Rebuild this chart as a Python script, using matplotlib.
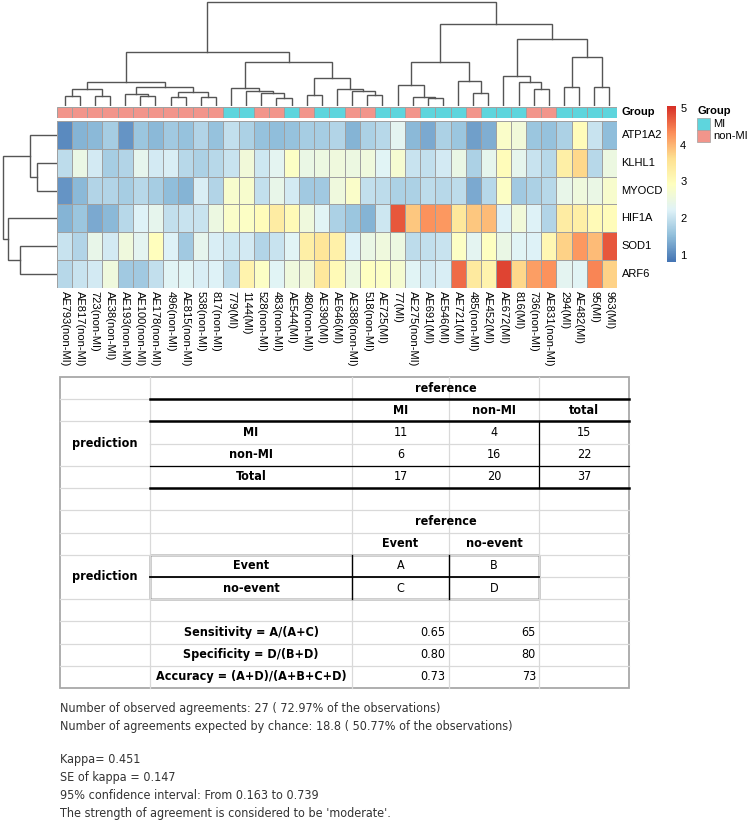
import os
import numpy as np
import matplotlib.pyplot as plt
from matplotlib.colors import LinearSegmentedColormap
from matplotlib.patches import Rectangle
from matplotlib import font_manager
from matplotlib.font_manager import FontProperties

W, H = 747, 822

# ---- heatmap data ----
genes = ['ATP1A2', 'KLHL1', 'MYOCD', 'HIF1A', 'SOD1', 'ARF6']
samples = ['AE793(non-MI)', 'AE817(non-MI)', '723(non-MI)', 'AE38(non-MI)', 'AE193(non-MI)',
           'AE100(non-MI)', 'AE178(non-MI)', '496(non-MI)', 'AE815(non-MI)', '538(non-MI)',
           '817(non-MI)', '779(MI)', '1144(MI)', '528(non-MI)', '483(non-MI)', 'AE544(MI)',
           '480(non-MI)', 'AE390(MI)', 'AE646(MI)', 'AE388(non-MI)', '518(non-MI)', 'AE725(MI)',
           '77(MI)', 'AE275(non-MI)', 'AE691(MI)', 'AE546(MI)', 'AE721(MI)', '485(non-MI)',
           'AE452(MI)', 'AE672(MI)', '816(MI)', '736(non-MI)', 'AE831(non-MI)', '294(MI)',
           'AE482(MI)', '95(MI)', '963(MI)']
groups = ['MI' if s.endswith('(MI)') else 'non-MI' for s in samples]

atp1a2 = [1.0, 1.4, 1.45, 1.7, 1.1, 1.6, 1.45, 1.65, 1.55, 1.8, 1.55, 1.95, 1.75, 1.55, 1.5,
          1.55, 1.7, 1.7, 1.8, 1.4, 1.75, 1.85, 2.3, 1.45, 1.3, 1.75, 1.6, 1.2, 1.35, 2.8,
          2.6, 1.6, 1.55, 1.75, 3.0, 2.0, 1.5]
klhl1 = [1.9, 2.45, 2.1, 1.7, 1.8, 2.35, 2.1, 2.15, 1.85, 1.75, 1.85, 2.0, 2.6, 2.05, 2.3,
         2.85, 2.45, 2.5, 2.55, 2.5, 2.55, 2.25, 2.7, 2.0, 1.95, 2.1, 2.45, 1.75, 2.35, 3.0,
         2.35, 2.0, 1.85, 3.3, 3.7, 1.85, 2.5]
myocd = [1.1, 1.45, 1.8, 1.8, 1.7, 1.85, 1.7, 1.5, 1.4, 2.15, 1.8, 2.75, 2.75, 1.95, 2.4,
         2.1, 1.65, 1.65, 2.55, 2.8, 1.95, 1.9, 1.75, 1.75, 1.9, 1.85, 1.9, 1.3, 1.85, 2.85,
         1.65, 1.75, 1.85, 2.4, 2.55, 2.45, 2.75]
hif1a = [1.4, 1.6, 1.3, 1.45, 1.85, 2.2, 2.35, 1.95, 2.0, 2.0, 2.5, 2.8, 2.85, 3.0, 3.35,
         3.05, 2.55, 2.25, 1.75, 1.6, 1.4, 2.05, 4.75, 3.85, 4.3, 4.25, 3.45, 3.85, 3.95, 2.2,
         2.6, 2.2, 1.8, 3.35, 3.3, 3.05, 3.0]
sod1 = [2.0, 1.8, 2.4, 2.1, 2.55, 2.3, 2.95, 2.2, 1.65, 2.35, 2.15, 2.05, 2.1, 1.8, 2.0,
        2.25, 3.3, 3.5, 3.25, 2.2, 2.45, 2.55, 2.5, 1.9, 1.95, 2.0, 2.85, 2.3, 2.9, 2.45,
        2.25, 2.2, 3.1, 3.75, 4.25, 3.95, 4.75]
arf6 = [1.85, 2.0, 2.1, 2.55, 1.65, 1.65, 1.95, 2.25, 2.25, 2.15, 2.2, 1.9, 3.2, 2.85, 2.25,
        2.55, 2.6, 3.45, 3.05, 2.5, 2.9, 2.85, 2.7, 2.25, 2.1, 2.15, 4.6, 3.4, 3.2, 4.9,
        3.7, 4.2, 4.3, 2.3, 2.25, 4.4, 3.75]

# dendrograms: (left node, right node, merge height); new nodes get ids n, n+1, ...
col_merges = [(0, 1, 10), (2, 3, 10), (37, 38, 17), (5, 6, 10), (4, 40, 12), (7, 8, 9),
              (9, 10, 9), (42, 43, 14), (41, 44, 19), (39, 45, 24), (14, 15, 8), (13, 47, 13),
              (12, 48, 15), (11, 49, 18), (16, 17, 11), (20, 21, 11), (19, 52, 15), (18, 53, 17),
              (51, 54, 28), (50, 55, 44), (46, 56, 54), (24, 25, 8), (23, 58, 9), (22, 59, 21),
              (27, 28, 13), (26, 61, 25), (60, 62, 44), (31, 32, 17), (30, 64, 24), (29, 65, 30),
              (33, 34, 19), (35, 36, 19), (67, 68, 49), (66, 69, 67), (63, 70, 82), (57, 71, 104)]
row_merges = [(1, 2, 20), (0, 6, 27), (4, 5, 37), (3, 8, 49), (7, 9, 54)]

# ---- table data ----
ref_cols = ['MI', 'non-MI', 'total']
pred_rows = ['MI', 'non-MI', 'Total']
counts = [[11, 4, 15], [6, 16, 22], [17, 20, 37]]
event_cols = ['Event', 'no-event']
event_rows = ['Event', 'no-event']
event_cells = [['A', 'B'], ['C', 'D']]
metrics = ['Sensitivity = A/(A+C)', 'Specificity = D/(B+D)', 'Accuracy = (A+D)/(A+B+C+D)']
metric_vals = [0.65, 0.80, 0.73]
metric_pct = [65, 80, 73]
notes = ['Number of observed agreements: 27 ( 72.97% of the observations)',
         'Number of agreements expected by chance: 18.8 ( 50.77% of the observations)',
         '',
         'Kappa= 0.451',
         'SE of kappa = 0.147',
         '95% confidence interval: From 0.163 to 0.739',
         "The strength of agreement is considered to be 'moderate'."]

installed = {f.name for f in font_manager.fontManager.ttflist}
sans = 'Liberation Sans' if 'Liberation Sans' in installed else 'DejaVu Sans'
plt.rcParams['font.family'] = [sans, 'DejaVu Sans']


# narrow font for the table (Arial Narrow look), searched by file name
def narrow_font(bold, size):
    prefs = ['liberationsansnarrow', 'dejavusanscondensed', 'opensanscondensed',
             'robotocondensed', 'notosanscondensed']
    files = [f.fname for f in font_manager.fontManager.ttflist]
    for p in prefs:
        for fn in files:
            b = os.path.basename(fn).lower().replace('-', '').replace('_', '')
            if not b.startswith(p):
                continue
            rest = b[len(p):]
            if bold and rest.startswith('bold.'):
                return FontProperties(fname=fn, size=size)
            if not bold and (rest.startswith('regular.') or rest.startswith('.')):
                return FontProperties(fname=fn, size=size)
    return FontProperties(family=sans, weight='bold' if bold else 'normal',
                          stretch='condensed', size=size)


fp_bold = narrow_font(True, 9)
fp_reg = narrow_font(False, 9)
fp_note = narrow_font(False, 9)

fig = plt.figure(figsize=(W / 100, H / 100), dpi=100)


def px_axes(x0, y0, x1, y1):
    return fig.add_axes([x0 / W, 1 - y1 / H, (x1 - x0) / W, (y1 - y0) / H])


def dendro(ax, merges, n, vertical=True):
    pos = {i: i + 0.5 for i in range(n)}
    hgt = {i: 0 for i in range(n)}
    for k, (a, b, h) in enumerate(merges):
        xs = [pos[a], pos[a], pos[b], pos[b]]
        ys = [hgt[a], h, h, hgt[b]]
        if vertical:
            ax.plot(xs, ys, color='#555555', lw=1.0, solid_joinstyle='miter')
        else:
            ax.plot(ys, xs, color='#555555', lw=1.0, solid_joinstyle='miter')
        pos[n + k] = (pos[a] + pos[b]) / 2
        hgt[n + k] = h


hx0, hx1, hy0, hy1 = 57, 617, 121, 288
vmin, vmax = 0.8, 5.05
cmap = LinearSegmentedColormap.from_list(
    'rdylbu', ['#4575B4', '#91BFDB', '#E0F3F8', '#FFFFBF', '#FEE090', '#FC8D59', '#D73027'])
grp_colors = {'MI': '#5ED5DD', 'non-MI': '#F2958B'}
mat = np.array([atp1a2, klhl1, myocd, hif1a, sod1, arf6])

# heatmap
ax = px_axes(hx0, hy0, hx1, hy1)
ax.pcolormesh(mat, cmap=cmap, vmin=vmin, vmax=vmax, edgecolors='#A0A0A0', linewidth=0.7)
ax.set_xlim(0, len(samples))
ax.set_ylim(len(genes), 0)
ax.axis('off')
for i, g in enumerate(genes):
    ax.text(len(samples) + 0.3, i + 0.5, g, va='center', ha='left', fontsize=8)
for j, s in enumerate(samples):
    ax.text(j + 0.5, len(genes) + 0.12, s, rotation=270, ha='center', va='top', fontsize=8)

# group annotation
axg = px_axes(hx0, 107, hx1, 118)
for j, g in enumerate(groups):
    axg.add_patch(Rectangle((j, 0), 1, 1, facecolor=grp_colors[g], edgecolor='#A0A0A0', lw=0.7))
axg.set_xlim(0, len(samples))
axg.set_ylim(0, 1)
axg.axis('off')
axg.text(len(samples) + 0.3, 0.5, 'Group', va='center', ha='left', fontsize=8, fontweight='bold')

# dendrograms
axd = px_axes(hx0, 0, hx1, 106)
dendro(axd, col_merges, len(samples), vertical=True)
axd.set_xlim(0, len(samples))
axd.set_ylim(0, 106)
axd.axis('off')

axr = px_axes(0, hy0, hx0, hy1)
dendro(axr, row_merges, len(genes), vertical=False)
axr.set_xlim(57, 0)
axr.set_ylim(len(genes), 0)
axr.axis('off')

# colour legend
axc = px_axes(667, 106, 676, 262)
axc.imshow(np.linspace(vmin, vmax, 200)[:, None], aspect='auto', cmap=cmap, origin='lower',
           extent=[0, 1, vmin, vmax])
axc.set_xticks([])
axc.yaxis.tick_right()
axc.set_yticks([1, 2, 3, 4, 5])
axc.tick_params(axis='y', length=0, pad=3, labelsize=8)
for sp in axc.spines.values():
    sp.set_visible(False)

# group legend
axl = fig.add_axes([0, 0, 1, 1], facecolor='none')
axl.set_xlim(0, W)
axl.set_ylim(H, 0)
axl.axis('off')
axl.text(697, 111, 'Group', fontsize=8, fontweight='bold', va='center', ha='left')
for k, g in enumerate(['MI', 'non-MI']):
    axl.add_patch(Rectangle((697, 118 + 12 * k), 13, 12, facecolor=grp_colors[g],
                            edgecolor='#A0A0A0', lw=0.5))
    axl.text(713, 124 + 12 * k, g, fontsize=8, va='center', ha='left')

# ---- table ----
tl, tr, tt, tb = 60, 629, 377, 688
cx = [60, 150, 352, 449, 539, 629]
nrow = 14
rh = (tb - tt) / nrow
ry = [tt + rh * k for k in range(nrow + 1)]
ccen = [(cx[i] + cx[i + 1]) / 2 for i in range(5)]
grid = '#D9D9D9'

for x in cx[1:-1]:
    axl.plot([x, x], [tt, tb], color=grid, lw=0.9)
for k in range(1, nrow):
    x_start = cx[1] if k in (3, 9) else tl
    axl.plot([x_start, tr], [ry[k], ry[k]], color=grid, lw=0.9)
axl.add_patch(Rectangle((tl, tt), tr - tl, tb - tt, fill=False, edgecolor='#A8A8A8', lw=1.3))

for k in (1, 2, 5):
    axl.plot([cx[1], tr], [ry[k], ry[k]], color='black', lw=1.8)
axl.plot([cx[1], tr], [ry[4], ry[4]], color='black', lw=0.9)
axl.plot([cx[4], cx[4]], [ry[2], ry[5]], color='black', lw=0.9)
axl.add_patch(Rectangle((cx[1], ry[8]), cx[4] - cx[1], ry[10] - ry[8], fill=False,
                        edgecolor='black', lw=1.0))
axl.plot([cx[1], cx[4]], [ry[9], ry[9]], color='black', lw=1.3)
for x in (cx[2], cx[3]):
    axl.plot([x, x], [ry[8], ry[10]], color='black', lw=1.0)


def cell_text(x, y, s, bold=False, ha='center'):
    axl.text(x, y, s, ha=ha, va='center', fontproperties=fp_bold if bold else fp_reg)


def rmid(row):
    return (ry[row] + ry[row + 1]) / 2


mid23 = (cx[2] + cx[4]) / 2
cell_text(mid23, rmid(0), 'reference', bold=True)
for i, c in enumerate(ref_cols):
    cell_text(ccen[2 + i], rmid(1), c, bold=True)
for r, lab in enumerate(pred_rows):
    cell_text(ccen[1], rmid(2 + r), lab, bold=True)
    for i, v in enumerate(counts[r]):
        cell_text(ccen[2 + i], rmid(2 + r), str(v))
cell_text(ccen[0], ry[3], 'prediction', bold=True)

cell_text(mid23, rmid(6), 'reference', bold=True)
for i, c in enumerate(event_cols):
    cell_text(ccen[2 + i], rmid(7), c, bold=True)
for r, lab in enumerate(event_rows):
    cell_text(ccen[1], rmid(8 + r), lab, bold=True)
    for i, v in enumerate(event_cells[r]):
        cell_text(ccen[2 + i], rmid(8 + r), v)
cell_text(ccen[0], ry[9], 'prediction', bold=True)

for r, lab in enumerate(metrics):
    cell_text(ccen[1], rmid(11 + r), lab, bold=True)
    cell_text(cx[3] - 4, rmid(11 + r), f'{metric_vals[r]:.2f}', ha='right')
    cell_text(cx[4] - 3, rmid(11 + r), str(metric_pct[r]), ha='right')

# ---- notes ----
note_y = [708, 726, 742, 759, 777, 795, 813]
for y, s in zip(note_y, notes):
    axl.text(60, y, s, ha='left', va='center', color='#333333', fontproperties=fp_note)

fig.savefig('out.png', dpi=100)
